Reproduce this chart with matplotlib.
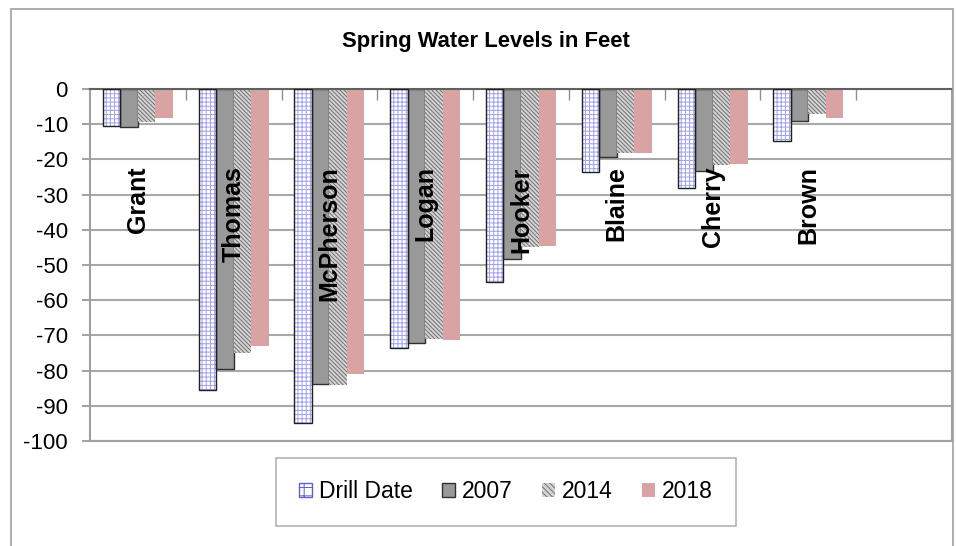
import matplotlib
matplotlib.use("Agg")
import matplotlib.pyplot as plt
import numpy as np
from matplotlib.patches import Rectangle, Patch

plt.rcParams['font.family'] = ['Liberation Sans', 'DejaVu Sans']
plt.rcParams['hatch.linewidth'] = 0.7

counties = ["Grant", "Thomas", "McPherson", "Logan", "Hooker", "Blaine", "Cherry", "Brown", ""]
drill_date = [-10.5, -85.6, -94.8, -73.7, -54.7, -23.5, -28.0, -14.7, np.nan]
y2007 = [-10.7, -79.5, -83.9, -72.3, -48.2, -19.3, -23.4, -9.1, np.nan]
y2014 = [-9.3, -75.0, -84.2, -71.0, -45.0, -18.3, -21.6, -7.0, np.nan]
y2018 = [-8.2, -73.1, -81.0, -71.2, -44.5, -18.3, -21.2, -8.3, np.nan]
yticks = list(range(0, -101, -10))

W, H = 957, 546
fig = plt.figure(figsize=(W / 100, H / 100), dpi=100)
ax = fig.add_axes([90 / W, 1 - 441 / H, (952 - 90) / W, (441 - 89) / H])

x = np.arange(len(counties))
bw = 0.183
offs = np.array([-1.5, -0.5, 0.5, 1.5]) * bw

# Drill Date: white with blue grid hatch, dark border
ax.bar(x + offs[0], drill_date, bw, facecolor='white', edgecolor='#a0a0f0', hatch='++++', linewidth=0, zorder=2)
ax.bar(x + offs[0], drill_date, bw, fill=False, edgecolor='#202020', linewidth=1.0, zorder=3)
# 2007: gray with dark border
ax.bar(x + offs[1], y2007, bw, facecolor='#999999', edgecolor='#303030', linewidth=1.0, zorder=2)
# 2014: fine diagonal hatch
ax.bar(x + offs[2], y2014, bw, facecolor='#d4d4d4', edgecolor='#707070', hatch='\\\\\\\\\\\\\\\\', linewidth=0, zorder=2)
# 2018: pink
ax.bar(x + offs[3], y2018, bw, facecolor='#d9a3a3', edgecolor='none', linewidth=0, zorder=2)

ax.set_xlim(-0.5, len(counties) - 0.5)
ax.set_ylim(-100, 0)
ax.set_yticks(yticks)
ax.set_yticklabels([str(v) for v in yticks], fontsize=16)
ax.tick_params(axis='y', direction='out', length=6, color='#909090', width=1.2, pad=10)
ax.yaxis.grid(True, color='#a8a8a8', linewidth=1.5)
ax.set_axisbelow(True)

ax.xaxis.tick_top()
ax.set_xticks(np.arange(0.5, len(counties) - 0.5, 1.0))
ax.set_xticklabels([])
ax.tick_params(axis='x', direction='in', length=8, color='#909090', width=1.0, top=True, bottom=False)

for s in ['left', 'right', 'bottom']:
    ax.spines[s].set_color('#a0a0a0')
    ax.spines[s].set_linewidth(1.5)
ax.spines['top'].set_color('#606060')
ax.spines['top'].set_linewidth(1.5)

for xi, name in zip(x, counties):
    if name:
        ax.text(xi, -22.0, name, rotation=90, ha='center', va='top', fontsize=18,
                fontweight='bold', color='black', zorder=5)

fig.text(486 / W, 1 - 41 / H, "Spring Water Levels in Feet", ha='center', va='center',
         fontsize=15.8, fontweight='bold')

handles = [
    Patch(facecolor='white', edgecolor='#6060d0', hatch='++', linewidth=1.0),
    Patch(facecolor='#999999', edgecolor='#303030', linewidth=1.0),
    Patch(facecolor='#d4d4d4', edgecolor='#707070', hatch='\\\\\\\\\\\\', linewidth=0),
    Patch(facecolor='#d9a3a3', edgecolor='none'),
]
leg = fig.legend(handles, ["Drill Date", "2007", "2014", "2018"], ncol=4,
                 loc='center', bbox_to_anchor=(506 / W, 1 - 492 / H), bbox_transform=fig.transFigure,
                 fontsize=16.5, frameon=True, fancybox=False, handlelength=0.55, handleheight=0.55,
                 handletextpad=0.3, columnspacing=1.3, borderpad=1.0, borderaxespad=0)
leg.get_frame().set_edgecolor('#a0a0a0')
leg.get_frame().set_linewidth(1.2)

# outer chart border
fig.patches.append(Rectangle((11 / W, -0.01), (953 - 11) / W, 1 - 9 / H + 0.01,
                             transform=fig.transFigure, fill=False, edgecolor='#a0a0a0',
                             linewidth=1.2, zorder=0))

fig.savefig("out.png", dpi=100)
